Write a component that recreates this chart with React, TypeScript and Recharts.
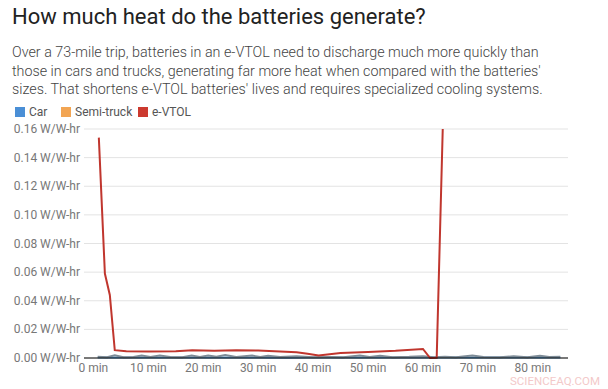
import { LineChart, Line, XAxis, YAxis, CartesianGrid } from 'recharts'

const xTicks = [0, 10, 20, 30, 40, 50, 60, 70, 80]
const yTicks = [0, 0.02, 0.04, 0.06, 0.08, 0.1, 0.12, 0.14, 0.16]

const evtolMinutes = [1, 2.1, 3, 3.9, 6, 10, 15, 18, 22, 26, 30, 34, 37, 39, 41, 45, 50, 55, 60, 61.3, 62.5, 63.6]
const evtolValues = [0.154, 0.059, 0.044, 0.0055, 0.0048, 0.0045, 0.0048, 0.0055, 0.005, 0.0055, 0.0052, 0.0045, 0.004, 0.003, 0.0018, 0.0035, 0.0042, 0.005, 0.0063, 0.0, 0.0002, 0.16]

const truckMinutes = [0.8, 2.5, 3.9, 5.5, 7.3, 8.8, 10.4, 12.1, 14, 16.2, 17.9, 19.4, 20.9, 22.4, 24, 26, 28.9, 30.4, 31.8, 34, 37, 40, 43, 45.5, 48.5, 50.3, 52.2, 54.5, 57.5, 60, 62, 64, 66, 69, 71, 74, 76.5, 79, 81.3, 83, 85]
const truckValues = [0.0008, 0.0006, 0.0019, 0.0006, 0.0007, 0.0017, 0.0007, 0.0017, 0.0007, 0.0006, 0.0017, 0.0007, 0.0017, 0.0008, 0.002, 0.0007, 0.0017, 0.0007, 0.0016, 0.0007, 0.0012, 0.0006, 0.0007, 0.0006, 0.0017, 0.0007, 0.0016, 0.0006, 0.0008, 0.0012, 0.0006, 0.0008, 0.0006, 0.0018, 0.0007, 0.0006, 0.0012, 0.0006, 0.0016, 0.0007, 0.0008]

const carMinutes = [0.8, 5, 10, 15, 20, 25, 30, 35, 40, 45, 50, 55, 60, 65, 70, 75, 80, 85]
const carValues = [0.0004, 0.0003, 0.0004, 0.0003, 0.0004, 0.0003, 0.0004, 0.0002, 0.0003, 0.0003, 0.0004, 0.0003, 0.0004, 0.0003, 0.0004, 0.0003, 0.0004, 0.0003]

const evtolData = evtolMinutes.map((t, i) => ({ t, v: evtolValues[i] }))
const truckData = truckMinutes.map((t, i) => ({ t, v: truckValues[i] }))
const carData = carMinutes.map((t, i) => ({ t, v: carValues[i] }))

const legend = [
  { name: 'Car', color: '#4a8fd6', x: 15 },
  { name: 'Semi-truck', color: '#f2a553', x: 61 },
  { name: 'e-VTOL', color: '#cc3a2f', x: 138 },
]

const font = 'Roboto, "Open Sans", sans-serif'
const tickStyle = { fontSize: 12, fill: '#777', fontFamily: font }

function YTick({ x, y, payload }: any) {
  return (
    <text x={x} y={y} dy={4} textAnchor="end" fontSize={12} fill="#777" fontFamily={font}>
      {`${Number(payload.value).toFixed(2)} W/W-hr`}
    </text>
  )
}

export default function App() {
  return (
    <div style={{ position: 'absolute', left: 0, top: 0, width: 608, height: 389, background: '#fff', fontFamily: font, overflow: 'hidden' }}>
      <div style={{ position: 'absolute', left: 12, top: 4, fontSize: 22, color: '#222', whiteSpace: 'nowrap' }}>
        How much heat do the batteries generate?
      </div>
      <div style={{ position: 'absolute', left: 12, top: 43, fontSize: 14.3, lineHeight: '18.5px', color: '#444', whiteSpace: 'nowrap', fontWeight: 300 }}>
        Over a 73-mile trip, batteries in an e-VTOL need to discharge much more quickly than<br />
        those in cars and trucks, generating far more heat when compared with the batteries'<br />
        sizes. That shortens e-VTOL batteries' lives and requires specialized cooling systems.
      </div>
      {legend.map((l) => (
        <div key={l.name} style={{ position: 'absolute', left: l.x, top: 105, display: 'flex', alignItems: 'center', fontSize: 12, color: '#555', whiteSpace: 'nowrap' }}>
          <span style={{ width: 10, height: 10, background: l.color, marginRight: 4, display: 'inline-block' }} />
          {l.name}
        </div>
      ))}
      <div style={{ position: 'absolute', left: 0, top: 0 }}>
        <LineChart width={608} height={389} margin={{ top: 129, right: 40, bottom: 11, left: 0 }}>
          <CartesianGrid vertical={false} stroke="#e3e3e3" />
          <XAxis
            type="number"
            dataKey="t"
            domain={[-1.7, 86.4]}
            ticks={xTicks}
            height={20}
            tickFormatter={(v) => `${v} min`}
            tick={tickStyle}
            axisLine={{ stroke: '#000' }}
            tickLine={false}
            tickSize={0}
            tickMargin={5}
          />
          <YAxis
            domain={[0, 0.16]}
            ticks={yTicks}
            width={84}
            tick={<YTick />}
            axisLine={false}
            tickLine={false}
            tickSize={0}
            tickMargin={4}
          />
          <Line data={carData} dataKey="v" type="linear" stroke="#5a9bd2" strokeWidth={2} dot={false} isAnimationActive={false} />
          <Line data={truckData} dataKey="v" type="linear" stroke="#7d8b96" strokeWidth={2} dot={false} isAnimationActive={false} />
          <Line data={evtolData} dataKey="v" type="linear" stroke="#c0362e" strokeWidth={2} dot={false} isAnimationActive={false} />
        </LineChart>
      </div>
      <div style={{ position: 'absolute', left: 510, top: 374, fontSize: 11.5, color: '#f3c9c9' }}>
        SCIENCEAQ.COM
      </div>
    </div>
  )
}
